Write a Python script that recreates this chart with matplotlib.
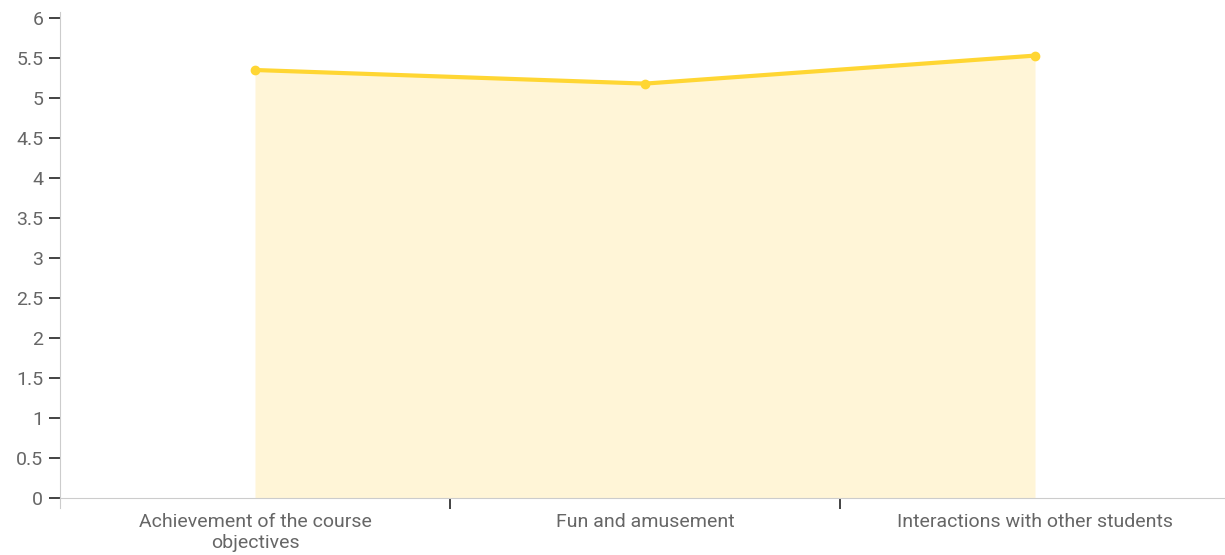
import matplotlib
matplotlib.use("Agg")
import matplotlib.pyplot as plt

categories = ["Achievement of the course\nobjectives", "Fun and amusement",
              "Interactions with other students"]
values = [5.35, 5.18, 5.53]
yticks = [0, 0.5, 1, 1.5, 2, 2.5, 3, 3.5, 4, 4.5, 5, 5.5, 6]
ylabels = ["0", "0.5", "1", "1.5", "2", "2.5", "3", "3.5", "4", "4.5", "5", "5.5", "6"]

plt.rcParams['font.family'] = ['Roboto', 'DejaVu Sans']

W, H = 1225, 555
fig = plt.figure(figsize=(W / 100, H / 100), dpi=100)
ax = fig.add_axes([60 / W, (H - 498) / H, 1170 / W, 480 / H])

x = list(range(len(categories)))
ax.fill_between(x, 0, values, color="#fff5d7", linewidth=0, zorder=1)
ax.plot(x, values, color="#ffd633", linewidth=3, marker="o", markersize=6,
        solid_capstyle="round", zorder=3)

ax.set_xlim(-0.5, 2.5)
ax.set_ylim(0, 6)

for s in ["top", "right"]:
    ax.spines[s].set_visible(False)
ax.spines["left"].set_color("#cccccc")
ax.spines["bottom"].set_color("#cccccc")
ax.spines["left"].set_bounds(-0.125, 6.07)

ax.set_yticks(yticks)
ax.set_yticklabels(ylabels)
ax.tick_params(axis="y", length=8, width=1.2, color="#222222", pad=4,
               labelsize=14, labelcolor="#666666")

ax.set_xticks(x)
ax.set_xticklabels(categories)
ax.set_xticks([0.5, 1.5], minor=True)
ax.tick_params(axis="x", which="major", length=0, pad=11,
               labelsize=14, labelcolor="#666666")
ax.tick_params(axis="x", which="minor", length=8, width=1.2, color="#222222",
               direction="out")
for lab in ax.get_xticklabels():
    lab.set_linespacing(1.2)

fig.savefig("out.png", dpi=100)
